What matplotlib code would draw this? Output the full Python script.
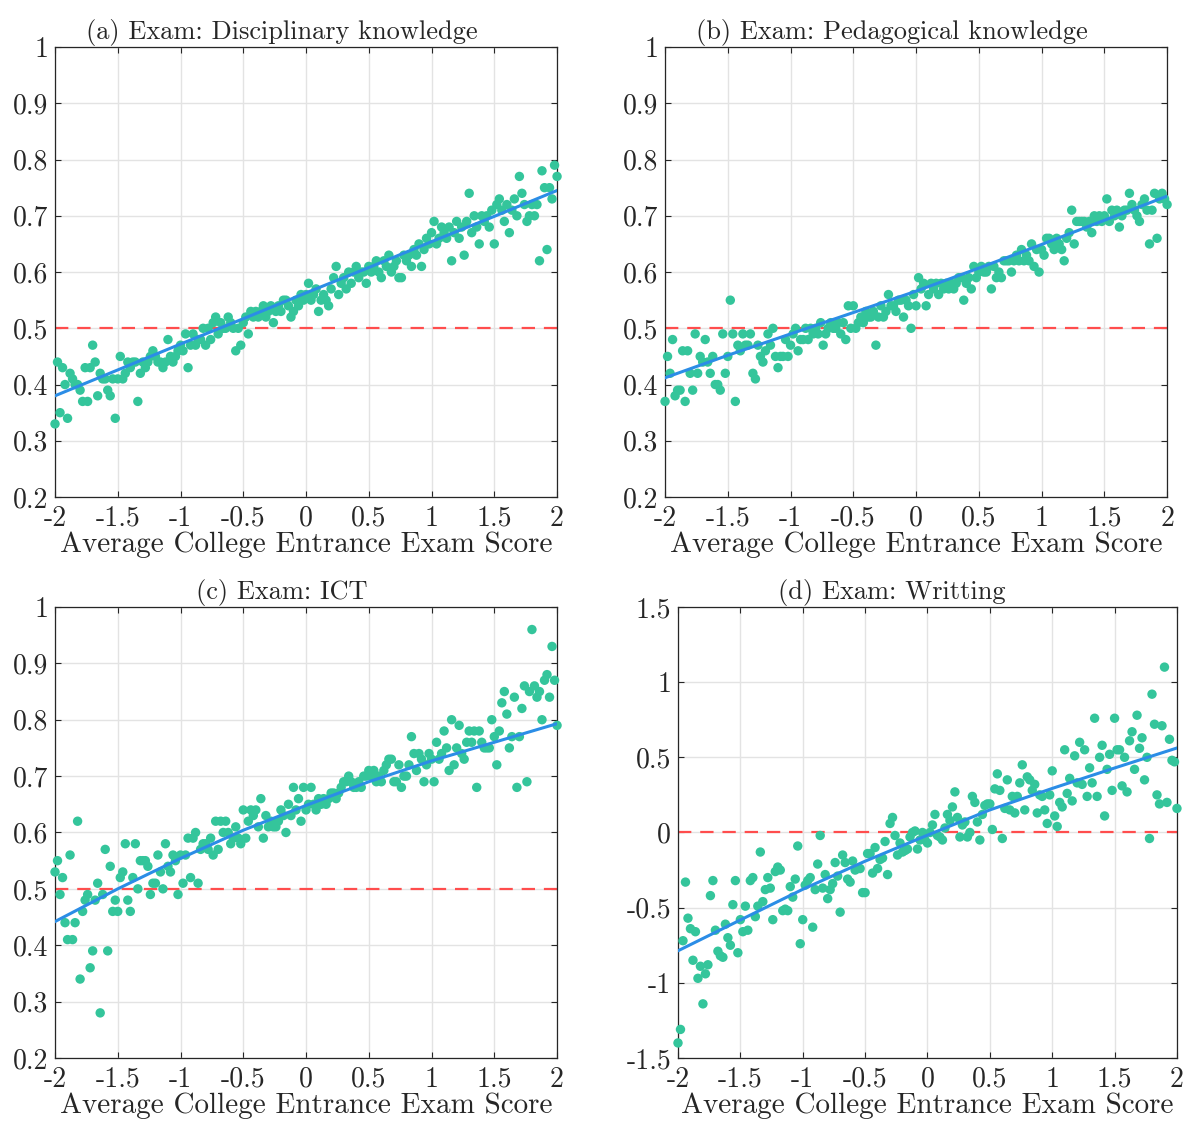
import numpy as np
import matplotlib
matplotlib.use('Agg')
import matplotlib.pyplot as plt

plt.rcParams['font.family'] = ['cmr10', 'DejaVu Serif']
plt.rcParams['axes.unicode_minus'] = False
plt.rcParams['mathtext.fontset'] = 'cm'

# binned x positions (201 bins from -2 to 2)
x_bins = np.linspace(-2, 2, 201)

titles = ['(a) Exam: Disciplinary knowledge',
          '(b) Exam: Pedagogical knowledge',
          '(c) Exam: ICT',
          '(d) Exam: Writting']
xlabel = 'Average College Entrance Exam Score'

xticks = [-2, -1.5, -1, -0.5, 0, 0.5, 1, 1.5, 2]
xtick_labels = ['-2', '-1.5', '-1', '-0.5', '0', '0.5', '1', '1.5', '2']
yticks_abc = [0.2, 0.3, 0.4, 0.5, 0.6, 0.7, 0.8, 0.9, 1.0]
ytick_labels_abc = ['0.2', '0.3', '0.4', '0.5', '0.6', '0.7', '0.8', '0.9', '1']
yticks_d = [-1.5, -1, -0.5, 0, 0.5, 1, 1.5]
ytick_labels_d = ['-1.5', '-1', '-0.5', '0', '0.5', '1', '1.5']
ref_lines = [0.5, 0.5, 0.5, 0.0]

y_disc = [
    0.33, 0.44, 0.35, 0.43, 0.40, 0.34, 0.42, 0.41, 0.40, 0.40,
    0.39, 0.37, 0.43, 0.37, 0.43, 0.47, 0.44, 0.38, 0.42, 0.41,
    0.41, 0.39, 0.38, 0.41, 0.34, 0.41, 0.45, 0.41, 0.42, 0.44,
    0.43, 0.44, 0.44, 0.37, 0.42, 0.44, 0.43, 0.44, 0.45, 0.46,
    0.45, 0.44, 0.44, 0.43, 0.44, 0.48, 0.45, 0.44, 0.45, 0.46,
    0.47, 0.46, 0.49, 0.43, 0.47, 0.49, 0.47, 0.48, 0.48, 0.50,
    0.47, 0.50, 0.48, 0.51, 0.52, 0.49, 0.51, 0.50, 0.50, 0.52,
    0.51, 0.50, 0.46, 0.50, 0.47, 0.51, 0.52, 0.49, 0.53, 0.52,
    0.53, 0.52, 0.53, 0.54, 0.52, 0.53, 0.54, 0.51, 0.53, 0.54,
    0.53, 0.55, 0.55, 0.54, 0.52, 0.53, 0.55, 0.54, 0.56, 0.55,
    0.56, 0.58, 0.55, 0.56, 0.57, 0.53, 0.55, 0.56, 0.55, 0.54,
    0.57, 0.59, 0.61, 0.56, 0.58, 0.59, 0.57, 0.60, 0.58, 0.60,
    0.61, 0.59, 0.60, 0.60, 0.58, 0.61, 0.60, 0.61, 0.62, 0.60,
    0.59, 0.62, 0.61, 0.63, 0.60, 0.61, 0.62, 0.59, 0.59, 0.63,
    0.62, 0.63, 0.61, 0.64, 0.63, 0.65, 0.61, 0.64, 0.66, 0.65,
    0.67, 0.69, 0.65, 0.66, 0.68, 0.67, 0.66, 0.68, 0.62, 0.67,
    0.69, 0.66, 0.68, 0.63, 0.69, 0.74, 0.67, 0.70, 0.68, 0.65,
    0.70, 0.69, 0.70, 0.68, 0.71, 0.65, 0.72, 0.73, 0.71, 0.69,
    0.72, 0.67, 0.71, 0.73, 0.70, 0.77, 0.74, 0.72, 0.69, 0.70,
    0.72, 0.70, 0.72, 0.62, 0.78, 0.75, 0.64, 0.75, 0.73, 0.79,
    0.77]

y_peda = [
    0.37, 0.45, 0.42, 0.48, 0.38, 0.39, 0.39, 0.46, 0.37, 0.46,
    0.42, 0.39, 0.49, 0.42, 0.45, 0.44, 0.48, 0.44, 0.42, 0.45,
    0.40, 0.40, 0.39, 0.49, 0.42, 0.45, 0.55, 0.49, 0.37, 0.47,
    0.46, 0.49, 0.47, 0.47, 0.49, 0.42, 0.41, 0.47, 0.45, 0.44,
    0.46, 0.49, 0.47, 0.50, 0.45, 0.43, 0.45, 0.45, 0.48, 0.45,
    0.47, 0.49, 0.50, 0.46, 0.48, 0.48, 0.50, 0.48, 0.50, 0.49,
    0.50, 0.49, 0.51, 0.47, 0.49, 0.50, 0.51, 0.50, 0.50, 0.51,
    0.49, 0.51, 0.48, 0.54, 0.50, 0.54, 0.50, 0.51, 0.52, 0.51,
    0.53, 0.52, 0.52, 0.53, 0.47, 0.52, 0.54, 0.52, 0.53, 0.56,
    0.54, 0.54, 0.53, 0.55, 0.55, 0.52, 0.55, 0.54, 0.50, 0.56,
    0.54, 0.59, 0.57, 0.58, 0.54, 0.56, 0.58, 0.57, 0.58, 0.56,
    0.58, 0.57, 0.58, 0.57, 0.58, 0.57, 0.58, 0.59, 0.59, 0.55,
    0.58, 0.59, 0.57, 0.61, 0.59, 0.60, 0.61, 0.60, 0.60, 0.61,
    0.57, 0.61, 0.59, 0.60, 0.59, 0.62, 0.62, 0.62, 0.60, 0.62,
    0.63, 0.62, 0.64, 0.62, 0.63, 0.62, 0.65, 0.61, 0.64, 0.60,
    0.64, 0.63, 0.66, 0.66, 0.65, 0.64, 0.66, 0.65, 0.64, 0.62,
    0.66, 0.67, 0.71, 0.65, 0.69, 0.69, 0.69, 0.69, 0.68, 0.69,
    0.67, 0.70, 0.69, 0.70, 0.69, 0.70, 0.73, 0.69, 0.71, 0.70,
    0.71, 0.68, 0.70, 0.71, 0.71, 0.74, 0.72, 0.71, 0.70, 0.69,
    0.72, 0.73, 0.71, 0.65, 0.71, 0.74, 0.66, 0.73, 0.74, 0.73,
    0.72]

y_ict = [
    0.53, 0.55, 0.49, 0.52, 0.44, 0.41, 0.56, 0.41, 0.44, 0.62,
    0.34, 0.46, 0.48, 0.49, 0.36, 0.39, 0.48, 0.51, 0.28, 0.49,
    0.57, 0.39, 0.54, 0.46, 0.48, 0.46, 0.52, 0.53, 0.58, 0.48,
    0.46, 0.52, 0.58, 0.50, 0.55, 0.55, 0.55, 0.54, 0.49, 0.51,
    0.51, 0.56, 0.53, 0.50, 0.58, 0.54, 0.53, 0.56, 0.55, 0.49,
    0.56, 0.51, 0.56, 0.59, 0.52, 0.59, 0.60, 0.51, 0.57, 0.58,
    0.58, 0.57, 0.59, 0.56, 0.62, 0.57, 0.62, 0.60, 0.62, 0.60,
    0.58, 0.59, 0.61, 0.59, 0.58, 0.64, 0.59, 0.62, 0.64, 0.63,
    0.64, 0.61, 0.66, 0.59, 0.63, 0.61, 0.62, 0.61, 0.61, 0.62,
    0.64, 0.63, 0.60, 0.65, 0.63, 0.68, 0.64, 0.66, 0.62, 0.68,
    0.64, 0.65, 0.68, 0.65, 0.64, 0.66, 0.65, 0.66, 0.65, 0.66,
    0.67, 0.67, 0.66, 0.67, 0.68, 0.69, 0.69, 0.70, 0.69, 0.68,
    0.68, 0.69, 0.68, 0.70, 0.70, 0.71, 0.70, 0.71, 0.69, 0.70,
    0.69, 0.71, 0.72, 0.73, 0.73, 0.69, 0.69, 0.72, 0.68, 0.70,
    0.70, 0.72, 0.77, 0.74, 0.71, 0.74, 0.73, 0.69, 0.72, 0.74,
    0.73, 0.69, 0.76, 0.73, 0.74, 0.78, 0.75, 0.71, 0.80, 0.72,
    0.75, 0.79, 0.74, 0.73, 0.76, 0.78, 0.76, 0.78, 0.68, 0.78,
    0.76, 0.75, 0.75, 0.75, 0.80, 0.77, 0.72, 0.78, 0.83, 0.85,
    0.81, 0.75, 0.77, 0.84, 0.68, 0.77, 0.82, 0.86, 0.69, 0.85,
    0.96, 0.86, 0.84, 0.85, 0.80, 0.87, 0.88, 0.84, 0.93, 0.87,
    0.79]

y_writ = [
    -1.40, -1.31, -0.72, -0.33, -0.57, -0.64, -0.85, -0.66, -0.97, -0.89,
    -1.14, -0.94, -0.88, -0.42, -0.32, -0.65, -0.79, -0.82, -0.83, -0.61,
    -0.70, -0.75, -0.48, -0.32, -0.80, -0.58, -0.66, -0.49, -0.65, -0.32,
    -0.30, -0.56, -0.49, -0.13, -0.46, -0.38, -0.30, -0.37, -0.58, -0.26,
    -0.23, -0.25, -0.52, -0.51, -0.52, -0.36, -0.43, -0.31, -0.09, -0.74,
    -0.58, -0.35, -0.32, -0.30, -0.63, -0.38, -0.21, -0.02, -0.37, -0.28,
    -0.44, -0.38, -0.34, -0.20, -0.29, -0.53, -0.15, -0.20, -0.31, -0.33,
    -0.19, -0.25, -0.24, -0.24, -0.40, -0.40, -0.14, -0.14, -0.27, -0.10,
    -0.24, -0.18, -0.17, -0.06, -0.28, 0.06, 0.10, -0.02, -0.15, -0.07,
    -0.13, -0.12, -0.11, -0.03, 0.00, 0.01, -0.11, -0.05, 0.00, -0.05,
    -0.07, 0.00, 0.05, 0.12, -0.02, -0.03, -0.05, 0.03, 0.12, 0.08,
    0.17, 0.27, 0.10, -0.03, 0.05, 0.07, -0.03, 0.00, 0.24, 0.20,
    0.07, -0.05, 0.12, 0.18, 0.19, 0.19, 0.02, 0.29, 0.39, 0.28,
    -0.04, 0.16, 0.35, 0.15, 0.24, 0.13, 0.24, 0.33, 0.45, 0.15,
    0.37, 0.35, 0.28, 0.32, 0.13, 0.25, 0.24, 0.15, 0.06, 0.25,
    0.41, 0.11, 0.04, 0.20, 0.17, 0.55, 0.26, 0.36, 0.21, 0.51,
    0.33, 0.60, 0.32, 0.55, 0.24, 0.43, 0.33, 0.76, 0.24, 0.50,
    0.58, 0.11, 0.42, 0.52, 0.28, 0.76, 0.55, 0.55, 0.31, 0.50,
    0.27, 0.61, 0.67, 0.42, 0.78, 0.56, 0.63, 0.35, 0.50, -0.04,
    0.92, 0.72, 0.25, 0.19, 0.71, 1.10, 0.20, 0.62, 0.48, 0.47,
    0.16]

# fitted curve read at the x tick positions
fit_x = [-2, -1.5, -1, -0.5, 0, 0.5, 1, 1.5, 2]
fit_disc = [0.380, 0.426, 0.472, 0.517, 0.563, 0.608, 0.654, 0.699, 0.745]
fit_peda = [0.412, 0.452, 0.490, 0.528, 0.566, 0.607, 0.649, 0.692, 0.735]
fit_ict = [0.442, 0.500, 0.554, 0.604, 0.648, 0.690, 0.727, 0.760, 0.793]
fit_writ = [-0.787, -0.582, -0.378, -0.191, -0.018, 0.150, 0.293, 0.429, 0.562]

series = [y_disc, y_peda, y_ict, y_writ]
fits = [fit_disc, fit_peda, fit_ict, fit_writ]

dot_color = '#34c59b'
fit_color = '#2b8de6'
ref_color = '#ff4d4d'

fig = plt.figure(figsize=(11.88, 11.23), dpi=100)
positions = [[0.0463, 0.5574, 0.4226, 0.4007],
             [0.5598, 0.5574, 0.4226, 0.4007],
             [0.0463, 0.0579, 0.4226, 0.4016],
             [0.5707, 0.0579, 0.4200, 0.4016]]
# titles sit a bit left of the axes centre in the original
title_x = [0.452, 0.452, 0.452, 0.429]

for i in range(4):
    ax = fig.add_axes(positions[i])
    ax.axhline(ref_lines[i], color=ref_color, lw=1.6, ls=(0, (6, 4)), zorder=2)
    ax.scatter(x_bins, series[i], s=46, color=dot_color, edgecolors='none',
               zorder=3, clip_on=False)
    ax.plot(fit_x, fits[i], color=fit_color, lw=2.2, zorder=4)

    ax.set_xlim(-2, 2)
    ax.set_xticks(xticks)
    ax.set_xticklabels(xtick_labels)
    if i < 3:
        ax.set_ylim(0.2, 1.0)
        ax.set_yticks(yticks_abc)
        ax.set_yticklabels(ytick_labels_abc)
    else:
        ax.set_ylim(-1.5, 1.5)
        ax.set_yticks(yticks_d)
        ax.set_yticklabels(ytick_labels_d)

    ax.grid(True, color='#e3e3e3', lw=1.0)
    ax.set_axisbelow(True)
    for sp in ax.spines.values():
        sp.set_color('#262626')
        sp.set_linewidth(0.9)
    ax.tick_params(direction='in', top=True, right=True, length=4, width=0.8,
                   labelsize=20, colors='#262626')
    ax.tick_params(axis='x', pad=6)
    ax.tick_params(axis='y', pad=5)
    ax.set_title(titles[i], fontsize=19, pad=6, color='#262626', x=title_x[i])
    ax.set_xlabel(xlabel, fontsize=21, labelpad=0, color='#262626')

fig.savefig('out.png', dpi=100)
